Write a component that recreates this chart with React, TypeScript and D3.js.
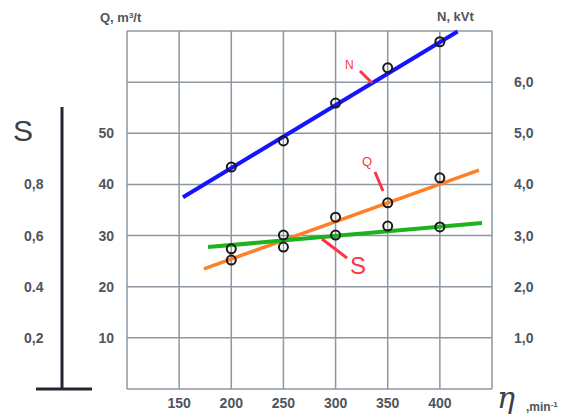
import React from "react";
import { scaleLinear, line } from "d3";

// rpm on the x axis
const xTicks = [150, 200, 250, 300, 350, 400];
const rpm = [200, 250, 300, 350, 400];
const qTicks = [10, 20, 30, 40, 50];
const nTicks = [1, 2, 3, 4, 5, 6];
const sTicks = [0.2, 0.4, 0.6, 0.8];
const sTickLabels = ["0,2", "0.4", "0,6", "0,8"];

// measured points
const nValues = [4.34, 4.85, 5.59, 6.28, 6.79];
const qValues = [25.2, 30.1, 33.6, 36.4, 41.3];
const sValues = [0.548, 0.555, 0.602, 0.637, 0.634];

// fitted lines: [rpm, value]
const nFit: [number, number][] = [[153.7, 3.75], [417, 6.99]];
const qFit: [number, number][] = [[173.8, 23.5], [437.5, 42.8]];
const sFit: [number, number][] = [[177.7, 0.555], [440.4, 0.649]];

const W = 572;
const H = 418;

export default function App() {
  const x = scaleLinear().domain([100, 450]).range([127, 492]);
  const yQ = scaleLinear().domain([0, 70]).range([389, 31]);
  const yN = scaleLinear().domain([0, 7]).range([389, 31]);
  const yS = scaleLinear().domain([0, 1.4]).range([389, 31]);

  const gridX = [100, ...xTicks, 450];
  const gridY = [0, 10, 20, 30, 40, 50, 60, 70];

  const mk = (ys: (v: number) => number) =>
    line<[number, number]>()
      .x((d) => x(d[0]))
      .y((d) => ys(d[1]));

  const grey = "#8d97a2";
  const txt = "#4f555d";
  const red = "#ff3345";
  const font = "'Liberation Sans', Arial, sans-serif";

  return (
    <svg
      width={W}
      height={H}
      style={{ position: "absolute", left: 0, top: 0, background: "#fff" }}
      fontFamily={font}
    >
      {/* grid */}
      {gridX.map((v) => (
        <line key={"gx" + v} x1={x(v)} x2={x(v)} y1={yQ(70)} y2={yQ(0)} stroke={grey} strokeWidth={1.5} />
      ))}
      {gridY.map((v) => (
        <line key={"gy" + v} x1={x(100)} x2={x(450)} y1={yQ(v)} y2={yQ(v)} stroke={grey} strokeWidth={1.5} />
      ))}

      {/* x labels */}
      {xTicks.map((v) => (
        <text key={"xl" + v} x={x(v)} y={408} textAnchor="middle" fontSize={14} fontWeight={600} fill={txt}>
          {v}
        </text>
      ))}
      {/* left Q labels */}
      {qTicks.map((v) => (
        <text key={"ql" + v} x={114} y={yQ(v) + 5} textAnchor="end" fontSize={14} fontWeight={600} fill={txt}>
          {v}
        </text>
      ))}
      {/* right N labels */}
      {nTicks.map((v) => (
        <text key={"nl" + v} x={514} y={yN(v) + 5} fontSize={14} fontWeight={600} fill={txt}>
          {v.toFixed(1).replace(".", ",")}
        </text>
      ))}
      {/* S axis */}
      {sTicks.map((v, i) => (
        <text key={"sl" + v} x={24} y={yS(v) + 5} fontSize={14} fontWeight={600} fill={txt}>
          {sTickLabels[i]}
        </text>
      ))}
      <text x={13} y={141} fontSize={30} fill="#3a3f48">S</text>
      <line x1={62} x2={62} y1={107} y2={389} stroke="#222733" strokeWidth={3} />
      <line x1={36} x2={92} y1={389} y2={389} stroke="#222733" strokeWidth={3} />

      {/* headers */}
      <text x={100} y={22} fontSize={13} fontWeight={600} fill={txt}>
        Q, m<tspan dy={-4} fontSize={8}>3</tspan>
        <tspan dy={4}>/t</tspan>
      </text>
      <text x={437} y={21} fontSize={13} fontWeight={600} fill={txt}>N, kVt</text>
      <text x={497} y={408} fontSize={30} fontStyle="italic" fontFamily="'DejaVu Serif', serif" fill="#3a3f48">
        η
      </text>
      <text x={526} y={411} fontSize={12} fontWeight={600} fill={txt}>
        ,min<tspan dy={-4} fontSize={8}>-1</tspan>
      </text>

      {/* fitted lines */}
      <path d={mk(yQ)(qFit) ?? ""} stroke="#ff7f27" strokeWidth={3.5} fill="none" />
      <path d={mk(yS)(sFit) ?? ""} stroke="#1db31d" strokeWidth={4} fill="none" />
      <path d={mk(yN)(nFit) ?? ""} stroke="#1414ff" strokeWidth={4} fill="none" />

      {/* points */}
      {rpm.map((r, i) => (
        <g key={"p" + r}>
          <circle cx={x(r)} cy={yN(nValues[i])} r={4.5} fill="none" stroke="#1a1a1a" strokeWidth={2} />
          <circle cx={x(r)} cy={yQ(qValues[i])} r={4.5} fill="none" stroke="#1a1a1a" strokeWidth={2} />
          <circle cx={x(r)} cy={yS(sValues[i])} r={4.5} fill="none" stroke="#1a1a1a" strokeWidth={2} />
        </g>
      ))}

      {/* annotations */}
      <line x1={360} y1={71} x2={372} y2={83} stroke={red} strokeWidth={3} />
      <text x={345} y={69} fontSize={12} fill={red}>N</text>
      <line x1={375} y1={172} x2={383} y2={191} stroke={red} strokeWidth={3} />
      <text x={362} y={166} fontSize={13} fill={red}>Q</text>
      <line x1={322} y1={239} x2={347} y2={258} stroke={red} strokeWidth={3} />
      <text x={350} y={274} fontSize={24} fill={red}>S</text>
    </svg>
  );
}
